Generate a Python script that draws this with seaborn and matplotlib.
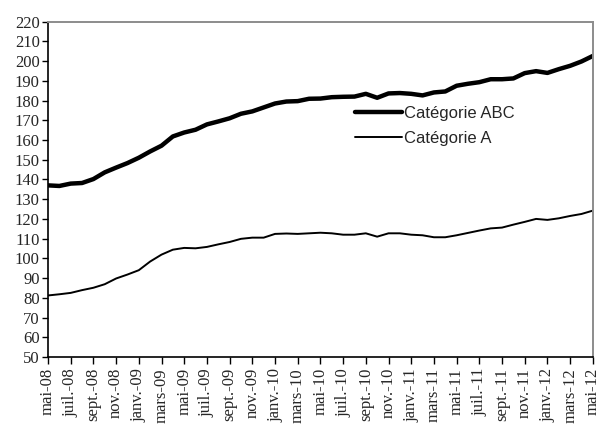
import pandas as pd
import matplotlib
matplotlib.use("Agg")
import matplotlib.pyplot as plt
import seaborn as sns

# --- Données (mai-08 -> mai-12, mensuel) ---
noms_mois = ["janv.", "févr.", "mars", "avr.", "mai", "juin", "juil.", "août",
             "sept.", "oct.", "nov.", "déc."]
periodes = []
for k in range(49):
    m = (4 + k) % 12
    an = 8 + (4 + k) // 12
    periodes.append(f"{noms_mois[m]}-{an:02d}")

cat_abc = [137.0, 136.7, 137.9, 138.2, 140.2, 143.6, 146.0, 148.3, 151.0, 154.2,
           157.1, 161.8, 163.8, 165.2, 167.9, 169.4, 171.0, 173.3, 174.5, 176.5,
           178.5, 179.5, 179.7, 180.9, 181.0, 181.7, 181.9, 182.0, 183.4, 181.4,
           183.6, 183.8, 183.4, 182.6, 184.1, 184.6, 187.5, 188.5, 189.3, 190.8,
           190.8, 191.2, 193.9, 194.9, 194.0, 195.9, 197.6, 199.8, 202.6]

cat_a = [81.2, 81.8, 82.5, 83.9, 85.1, 86.9, 89.8, 91.8, 94.0, 98.4,
         101.9, 104.4, 105.3, 105.1, 105.8, 107.1, 108.3, 109.9, 110.5, 110.5,
         112.4, 112.6, 112.4, 112.7, 113.0, 112.7, 112.0, 112.0, 112.7, 111.0,
         112.7, 112.7, 112.0, 111.7, 110.7, 110.7, 111.7, 112.9, 114.1, 115.2,
         115.6, 117.1, 118.5, 120.0, 119.5, 120.3, 121.5, 122.5, 124.2]

df = pd.DataFrame({
    "idx": list(range(len(periodes))) * 2,
    "valeur": cat_abc + cat_a,
    "serie": ["Catégorie ABC"] * len(cat_abc) + ["Catégorie A"] * len(cat_a),
})

sns.set_theme(style="ticks")
plt.rcParams["font.family"] = ["Liberation Serif", "DejaVu Serif"]

fig = plt.figure(figsize=(5.97, 4.24), dpi=100)
ax = fig.add_axes([0.0804, 0.158, 0.9126, 0.791])

sns.lineplot(data=df, x="idx", y="valeur", hue="serie", size="serie",
             sizes={"Catégorie ABC": 3.2, "Catégorie A": 1.4},
             palette={"Catégorie ABC": "black", "Catégorie A": "black"},
             ax=ax)

ax.set_xlim(0, len(periodes) - 1)
ax.set_ylim(50, 220)
ax.set_yticks(range(50, 221, 10))
ax.set_xticks(range(0, len(periodes), 2))
ax.set_xticklabels(periodes[::2], rotation=90, fontsize=12)
ax.tick_params(axis="y", labelsize=12, length=4, width=1, color="black", pad=2)
ax.tick_params(axis="x", length=5, width=1, color="black", pad=3)
ax.set_xlabel("")
ax.set_ylabel("")

for s in ["left", "bottom"]:
    ax.spines[s].set_color("black")
    ax.spines[s].set_linewidth(1.2)
for s in ["top", "right"]:
    ax.spines[s].set_visible(True)
    ax.spines[s].set_color("#8c8c8c")
    ax.spines[s].set_linewidth(1.4)

handles, labels = ax.get_legend_handles_labels()
ax.get_legend().remove()
leg = fig.legend(handles, labels, loc="center left",
                 bbox_to_anchor=(355 / 597, 1 - 126 / 424),
                 frameon=False, handlelength=2.8, handletextpad=0.15,
                 labelspacing=0.62, borderpad=0, borderaxespad=0,
                 prop={"family": ["Liberation Sans", "DejaVu Sans"], "size": 12})

fig.savefig("out.png", dpi=100)
